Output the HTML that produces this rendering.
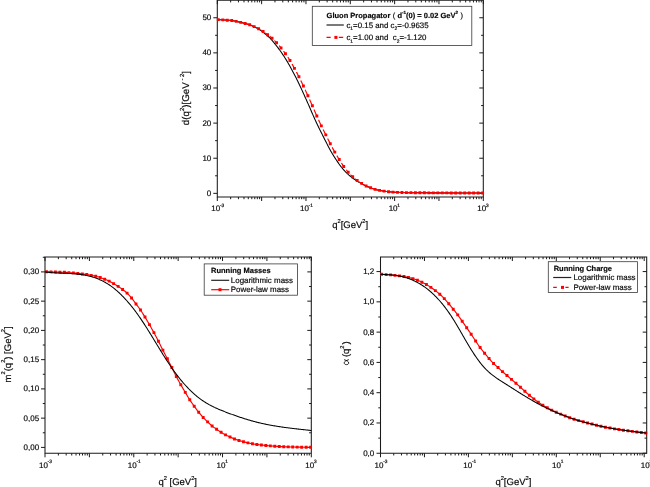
<!DOCTYPE html>
<html><head><meta charset="utf-8"><title>plots</title>
<style>html,body{margin:0;padding:0;background:#fff;}svg{display:block;will-change:transform;}text{font-family:"Liberation Sans", sans-serif;fill:#0a0a0a;stroke:#0a0a0a;stroke-width:0.18px;text-rendering:geometricPrecision;}</style>
</head><body>
<svg width="650" height="487" viewBox="0 0 650 487">
<rect width="650" height="487" fill="#fff"/>
<path d="M217.3 0.2 V197 H483.3 V0.2 Z" fill="none" stroke="#1a1a1a" stroke-width="1.05"/>
<path d="M217.3 197v4M217.3 0.2v4M230.65 197v2.2M230.65 0.2v2.2M238.45 197v2.2M238.45 0.2v2.2M243.99 197v2.2M243.99 0.2v2.2M248.29 197v2.2M248.29 0.2v2.2M251.8 197v2.2M251.8 0.2v2.2M254.77 197v2.2M254.77 0.2v2.2M257.34 197v2.2M257.34 0.2v2.2M259.6 197v2.2M259.6 0.2v2.2M261.63 197v4M261.63 0.2v4M274.98 197v2.2M274.98 0.2v2.2M282.79 197v2.2M282.79 0.2v2.2M288.32 197v2.2M288.32 0.2v2.2M292.62 197v2.2M292.62 0.2v2.2M296.13 197v2.2M296.13 0.2v2.2M299.1 197v2.2M299.1 0.2v2.2M301.67 197v2.2M301.67 0.2v2.2M303.94 197v2.2M303.94 0.2v2.2M305.97 197v4M305.97 0.2v4M319.31 197v2.2M319.31 0.2v2.2M327.12 197v2.2M327.12 0.2v2.2M332.66 197v2.2M332.66 0.2v2.2M336.95 197v2.2M336.95 0.2v2.2M340.46 197v2.2M340.46 0.2v2.2M343.43 197v2.2M343.43 0.2v2.2M346 197v2.2M346 0.2v2.2M348.27 197v2.2M348.27 0.2v2.2M350.3 197v4M350.3 0.2v4M363.65 197v2.2M363.65 0.2v2.2M371.45 197v2.2M371.45 0.2v2.2M376.99 197v2.2M376.99 0.2v2.2M381.29 197v2.2M381.29 0.2v2.2M384.8 197v2.2M384.8 0.2v2.2M387.77 197v2.2M387.77 0.2v2.2M390.34 197v2.2M390.34 0.2v2.2M392.6 197v2.2M392.6 0.2v2.2M394.63 197v4M394.63 0.2v4M407.98 197v2.2M407.98 0.2v2.2M415.79 197v2.2M415.79 0.2v2.2M421.32 197v2.2M421.32 0.2v2.2M425.62 197v2.2M425.62 0.2v2.2M429.13 197v2.2M429.13 0.2v2.2M432.1 197v2.2M432.1 0.2v2.2M434.67 197v2.2M434.67 0.2v2.2M436.94 197v2.2M436.94 0.2v2.2M438.97 197v4M438.97 0.2v4M452.31 197v2.2M452.31 0.2v2.2M460.12 197v2.2M460.12 0.2v2.2M465.66 197v2.2M465.66 0.2v2.2M469.95 197v2.2M469.95 0.2v2.2M473.46 197v2.2M473.46 0.2v2.2M476.43 197v2.2M476.43 0.2v2.2M479 197v2.2M479 0.2v2.2M481.27 197v2.2M481.27 0.2v2.2M483.3 197v4M483.3 0.2v4M217.3 193.35h-4M483.3 193.35h-4M217.3 158.23h-4M483.3 158.23h-4M217.3 123.11h-4M483.3 123.11h-4M217.3 87.99h-4M483.3 87.99h-4M217.3 52.87h-4M483.3 52.87h-4M217.3 17.75h-4M483.3 17.75h-4M217.3 175.79h-2.2M483.3 175.79h-2.2M217.3 140.67h-2.2M483.3 140.67h-2.2M217.3 105.55h-2.2M483.3 105.55h-2.2M217.3 70.43h-2.2M483.3 70.43h-2.2M217.3 35.31h-2.2M483.3 35.31h-2.2" fill="none" stroke="#1a1a1a" stroke-width="1"/>
<text x="211.3" y="195.8" font-size="8" text-anchor="end">0</text>
<text x="211.3" y="160.68" font-size="8" text-anchor="end">10</text>
<text x="211.3" y="125.56" font-size="8" text-anchor="end">20</text>
<text x="211.3" y="90.44" font-size="8" text-anchor="end">30</text>
<text x="211.3" y="55.32" font-size="8" text-anchor="end">40</text>
<text x="211.3" y="20.2" font-size="8" text-anchor="end">50</text>
<text x="211.3" y="211.3" font-size="8" text-anchor="start" font-weight="normal" ><tspan>10</tspan><tspan font-size="4.8" dy="-4.56" dx="-0.3">-3</tspan><tspan dy="4.56" font-size="1">&#8203;</tspan></text>
<text x="299.97" y="211.3" font-size="8" text-anchor="start" font-weight="normal" ><tspan>10</tspan><tspan font-size="4.8" dy="-4.56" dx="-0.3">-1</tspan><tspan dy="4.56" font-size="1">&#8203;</tspan></text>
<text x="388.63" y="211.3" font-size="8" text-anchor="start" font-weight="normal" ><tspan>10</tspan><tspan font-size="4.8" dy="-4.56" dx="-0.3">1</tspan><tspan dy="4.56" font-size="1">&#8203;</tspan></text>
<text x="477.3" y="211.3" font-size="8" text-anchor="start" font-weight="normal" ><tspan>10</tspan><tspan font-size="4.8" dy="-4.56" dx="-0.3">3</tspan><tspan dy="4.56" font-size="1">&#8203;</tspan></text>
<path d="M217.3 19.6 L217.83 19.6 L218.37 19.61 L218.9 19.64 L219.43 19.68 L219.97 19.71 L220.5 19.75 L221.03 19.78 L221.56 19.81 L222.1 19.85 L222.63 19.88 L223.16 19.92 L223.7 19.95 L224.23 19.98 L224.76 20.02 L225.3 20.05 L225.83 20.08 L226.36 20.12 L226.9 20.16 L227.43 20.19 L227.96 20.23 L228.49 20.27 L229.03 20.32 L229.56 20.36 L230.09 20.4 L230.63 20.45 L231.16 20.51 L231.69 20.56 L232.23 20.63 L232.76 20.7 L233.29 20.79 L233.83 20.88 L234.36 20.99 L234.89 21.09 L235.42 21.2 L235.96 21.31 L236.49 21.42 L237.02 21.53 L237.56 21.64 L238.09 21.76 L238.62 21.87 L239.16 21.99 L239.69 22.12 L240.22 22.24 L240.75 22.37 L241.29 22.49 L241.82 22.62 L242.35 22.75 L242.89 22.88 L243.42 23.01 L243.95 23.15 L244.49 23.29 L245.02 23.43 L245.55 23.57 L246.09 23.71 L246.62 23.85 L247.15 24 L247.68 24.14 L248.22 24.3 L248.75 24.46 L249.28 24.63 L249.82 24.81 L250.35 25.01 L250.88 25.23 L251.42 25.46 L251.95 25.71 L252.48 25.96 L253.02 26.22 L253.55 26.48 L254.08 26.73 L254.61 26.98 L255.15 27.23 L255.68 27.47 L256.21 27.73 L256.75 27.99 L257.28 28.26 L257.81 28.54 L258.35 28.84 L258.88 29.16 L259.41 29.5 L259.95 29.86 L260.48 30.23 L261.01 30.62 L261.54 31.01 L262.08 31.41 L262.61 31.81 L263.14 32.23 L263.68 32.66 L264.21 33.1 L264.74 33.55 L265.28 34 L265.81 34.46 L266.34 34.92 L266.88 35.37 L267.41 35.82 L267.94 36.27 L268.47 36.73 L269.01 37.19 L269.54 37.68 L270.07 38.19 L270.61 38.73 L271.14 39.3 L271.67 39.91 L272.21 40.54 L272.74 41.18 L273.27 41.84 L273.81 42.5 L274.34 43.15 L274.87 43.81 L275.4 44.47 L275.94 45.14 L276.47 45.81 L277 46.49 L277.54 47.19 L278.07 47.89 L278.6 48.6 L279.14 49.32 L279.67 50.05 L280.2 50.78 L280.73 51.53 L281.27 52.29 L281.8 53.06 L282.33 53.84 L282.87 54.63 L283.4 55.43 L283.93 56.24 L284.47 57.07 L285 57.91 L285.53 58.76 L286.07 59.62 L286.6 60.49 L287.13 61.38 L287.66 62.28 L288.2 63.2 L288.73 64.14 L289.26 65.09 L289.8 66.05 L290.33 67.03 L290.86 68 L291.4 68.98 L291.93 69.95 L292.46 70.94 L293 71.93 L293.53 72.93 L294.06 73.94 L294.59 74.95 L295.13 75.98 L295.66 77.03 L296.19 78.08 L296.73 79.15 L297.26 80.24 L297.79 81.33 L298.33 82.44 L298.86 83.56 L299.39 84.68 L299.93 85.81 L300.46 86.94 L300.99 88.08 L301.52 89.23 L302.06 90.38 L302.59 91.55 L303.12 92.72 L303.66 93.89 L304.19 95.07 L304.72 96.25 L305.26 97.43 L305.79 98.62 L306.32 99.81 L306.86 101 L307.39 102.2 L307.92 103.41 L308.45 104.61 L308.99 105.82 L309.52 107.03 L310.05 108.25 L310.59 109.48 L311.12 110.72 L311.65 111.95 L312.19 113.18 L312.72 114.41 L313.25 115.62 L313.78 116.81 L314.32 118 L314.85 119.19 L315.38 120.36 L315.92 121.53 L316.45 122.69 L316.98 123.84 L317.52 124.97 L318.05 126.09 L318.58 127.2 L319.12 128.29 L319.65 129.36 L320.18 130.42 L320.71 131.48 L321.25 132.53 L321.78 133.58 L322.31 134.63 L322.85 135.69 L323.38 136.76 L323.91 137.82 L324.45 138.89 L324.98 139.95 L325.51 141.01 L326.05 142.06 L326.58 143.1 L327.11 144.13 L327.64 145.15 L328.18 146.17 L328.71 147.19 L329.24 148.2 L329.78 149.2 L330.31 150.18 L330.84 151.15 L331.38 152.09 L331.91 153.01 L332.44 153.9 L332.98 154.78 L333.51 155.63 L334.04 156.47 L334.57 157.3 L335.11 158.12 L335.64 158.93 L336.17 159.73 L336.71 160.53 L337.24 161.34 L337.77 162.13 L338.31 162.92 L338.84 163.69 L339.37 164.45 L339.91 165.19 L340.44 165.91 L340.97 166.6 L341.5 167.27 L342.04 167.92 L342.57 168.56 L343.1 169.19 L343.64 169.79 L344.17 170.39 L344.7 170.97 L345.24 171.53 L345.77 172.08 L346.3 172.61 L346.84 173.13 L347.37 173.64 L347.9 174.14 L348.43 174.63 L348.97 175.1 L349.5 175.56 L350.03 176.02 L350.57 176.46 L351.1 176.89 L351.63 177.31 L352.17 177.72 L352.7 178.13 L353.23 178.52 L353.76 178.91 L354.3 179.29 L354.83 179.66 L355.36 180.02 L355.9 180.37 L356.43 180.71 L356.96 181.05 L357.5 181.37 L358.03 181.68 L358.56 181.99 L359.1 182.29 L359.63 182.59 L360.16 182.88 L360.69 183.18 L361.23 183.47 L361.76 183.76 L362.29 184.06 L362.83 184.36 L363.36 184.65 L363.89 184.94 L364.43 185.22 L364.96 185.49 L365.49 185.75 L366.03 186 L366.56 186.23 L367.09 186.45 L367.62 186.66 L368.16 186.86 L368.69 187.06 L369.22 187.26 L369.76 187.45 L370.29 187.65 L370.82 187.85 L371.36 188.05 L371.89 188.26 L372.42 188.47 L372.96 188.68 L373.49 188.88 L374.02 189.07 L374.55 189.24 L375.09 189.4 L375.62 189.54 L376.15 189.67 L376.69 189.8 L377.22 189.92 L377.75 190.04 L378.29 190.15 L378.82 190.25 L379.35 190.35 L379.89 190.45 L380.42 190.55 L380.95 190.64 L381.48 190.72 L382.02 190.81 L382.55 190.89 L383.08 190.97 L383.62 191.04 L384.15 191.12 L384.68 191.2 L385.22 191.28 L385.75 191.35 L386.28 191.43 L386.82 191.5 L387.35 191.57 L387.88 191.63 L388.41 191.69 L388.95 191.75 L389.48 191.8 L390.01 191.85 L390.55 191.9 L391.08 191.95 L391.61 192 L392.15 192.04 L392.68 192.08 L393.21 192.11 L393.74 192.15 L394.28 192.18 L394.81 192.21 L395.34 192.24 L395.88 192.27 L396.41 192.3 L396.94 192.32 L397.48 192.34 L398.01 192.36 L398.54 192.38 L399.08 192.4 L399.61 192.41 L400.14 192.43 L400.67 192.45 L401.21 192.46 L401.74 192.48 L402.27 192.49 L402.81 192.51 L403.34 192.52 L403.87 192.53 L404.41 192.55 L404.94 192.56 L405.47 192.57 L406.01 192.58 L406.54 192.59 L407.07 192.6 L407.6 192.61 L408.14 192.62 L408.67 192.63 L409.2 192.64 L409.74 192.65 L410.27 192.65 L410.8 192.66 L411.34 192.67 L411.87 192.68 L412.4 192.68 L412.94 192.69 L413.47 192.7 L414 192.71 L414.53 192.71 L415.07 192.72 L415.6 192.73 L416.13 192.73 L416.67 192.74 L417.2 192.74 L417.73 192.75 L418.27 192.76 L418.8 192.76 L419.33 192.77 L419.87 192.77 L420.4 192.78 L420.93 192.78 L421.46 192.79 L422 192.79 L422.53 192.8 L423.06 192.8 L423.6 192.81 L424.13 192.81 L424.66 192.82 L425.2 192.82 L425.73 192.82 L426.26 192.83 L426.79 192.83 L427.33 192.83 L427.86 192.84 L428.39 192.84 L428.93 192.84 L429.46 192.85 L429.99 192.85 L430.53 192.85 L431.06 192.86 L431.59 192.86 L432.13 192.86 L432.66 192.86 L433.19 192.87 L433.72 192.87 L434.26 192.87 L434.79 192.87 L435.32 192.87 L435.86 192.88 L436.39 192.88 L436.92 192.88 L437.46 192.88 L437.99 192.89 L438.52 192.89 L439.06 192.89 L439.59 192.89 L440.12 192.89 L440.65 192.9 L441.19 192.9 L441.72 192.9 L442.25 192.9 L442.79 192.9 L443.32 192.9 L443.85 192.91 L444.39 192.91 L444.92 192.91 L445.45 192.91 L445.99 192.91 L446.52 192.91 L447.05 192.92 L447.58 192.92 L448.12 192.92 L448.65 192.92 L449.18 192.92 L449.72 192.92 L450.25 192.92 L450.78 192.93 L451.32 192.93 L451.85 192.93 L452.38 192.93 L452.92 192.93 L453.45 192.93 L453.98 192.93 L454.51 192.94 L455.05 192.94 L455.58 192.94 L456.11 192.94 L456.65 192.94 L457.18 192.94 L457.71 192.94 L458.25 192.95 L458.78 192.95 L459.31 192.95 L459.85 192.95 L460.38 192.95 L460.91 192.95 L461.44 192.95 L461.98 192.96 L462.51 192.96 L463.04 192.96 L463.58 192.96 L464.11 192.96 L464.64 192.96 L465.18 192.96 L465.71 192.96 L466.24 192.97 L466.77 192.97 L467.31 192.97 L467.84 192.97 L468.37 192.97 L468.91 192.97 L469.44 192.97 L469.97 192.97 L470.51 192.98 L471.04 192.98 L471.57 192.98 L472.11 192.98 L472.64 192.98 L473.17 192.98 L473.7 192.98 L474.24 192.98 L474.77 192.98 L475.3 192.99 L475.84 192.99 L476.37 192.99 L476.9 192.99 L477.44 192.99 L477.97 192.99 L478.5 192.99 L479.04 192.99 L479.57 192.99 L480.1 192.99 L480.63 193 L481.17 193 L481.7 193 L482.23 193 L482.77 193 L483.3 193" fill="none" stroke="#000" stroke-width="1.05" stroke-linejoin="round"/>
<path d="M218.3 19.61 L218.71 19.63 L219.11 19.66 L219.52 19.68 L219.93 19.71 L220.34 19.74 L220.74 19.76 L221.15 19.79 L221.56 19.81 L221.97 19.84 L222.37 19.87 L222.78 19.89M222.78 19.89 L223.19 19.92 L223.59 19.94 L224 19.97 L224.41 19.99 L224.82 20.02 L225.22 20.05 L225.63 20.07 L226.04 20.1 L226.44 20.12 L226.85 20.15 L227.26 20.18M227.26 20.18 L227.67 20.21 L228.07 20.24 L228.48 20.27 L228.89 20.31 L229.3 20.34 L229.7 20.37 L230.11 20.41 L230.52 20.44 L230.92 20.48 L231.33 20.52 L231.74 20.57M231.74 20.57 L232.15 20.62 L232.55 20.67 L232.96 20.74 L233.37 20.8 L233.78 20.88 L234.18 20.95 L234.59 21.03 L235 21.11 L235.4 21.2 L235.81 21.28 L236.22 21.36M236.22 21.36 L236.63 21.45 L237.03 21.53 L237.44 21.62 L237.85 21.7 L238.25 21.79 L238.66 21.88 L239.07 21.97 L239.48 22.07 L239.88 22.16 L240.29 22.26 L240.7 22.35M242.17 22.7 L242.33 22.74 L242.73 22.84 L243.14 22.94 L243.55 23.04 L243.96 23.15 L244.36 23.25 L244.77 23.36 L245.18 23.47M246.69 23.87 L246.81 23.9 L247.21 24.01 L247.62 24.13 L248.03 24.24 L248.44 24.36 L248.84 24.49 L249.25 24.62 L249.66 24.75M251.32 25.4 L251.69 25.56 L252.1 25.74 L252.51 25.93 L252.92 26.12 L253.32 26.3 L253.73 26.49 L254.14 26.67M255.82 27.4 L256.17 27.56 L256.58 27.74 L256.99 27.92 L257.4 28.11 L257.8 28.3 L258.21 28.5 L258.62 28.7M260.52 29.79 L260.65 29.87 L261.06 30.12 L261.47 30.38 L261.87 30.65 L262.28 30.92 L262.69 31.19 L263.1 31.46M265.13 32.89 L265.13 32.89 L265.54 33.2 L265.95 33.5 L266.35 33.81 L266.76 34.11 L267.17 34.42 L267.58 34.73M269.67 36.29 L270.02 36.56 L270.43 36.87 L270.83 37.19 L271.24 37.51 L271.65 37.85 L272.06 38.2M274.49 40.58 L274.5 40.58 L274.91 41.02 L275.31 41.46 L275.72 41.91 L276.13 42.36 L276.54 42.81M279.07 45.64 L279.39 46 L279.79 46.48 L280.2 46.96 L280.61 47.44 L281.02 47.93M283.57 51.14 L283.87 51.53 L284.27 52.07 L284.68 52.62 L285.09 53.17 L285.49 53.73M287.82 57.11 L287.94 57.28 L288.35 57.9 L288.75 58.53 L289.16 59.17 L289.57 59.81 L289.97 60.47M292.05 64 L292.42 64.65 L292.83 65.38 L293.23 66.12 L293.64 66.86 L294.05 67.6 L294.45 68.35M296.41 71.95 L296.49 72.11 L296.9 72.87 L297.3 73.64 L297.71 74.41 L298.12 75.19 L298.53 75.98 L298.93 76.78M300.76 80.45 L300.97 80.87 L301.38 81.72 L301.78 82.56 L302.19 83.41 L302.6 84.27 L303.01 85.13 L303.41 85.99M305.15 89.71 L305.45 90.37 L305.86 91.26 L306.26 92.15 L306.67 93.04 L307.08 93.94 L307.49 94.84 L307.89 95.74M309.58 99.48 L309.93 100.27 L310.34 101.19 L310.74 102.1 L311.15 103.02 L311.56 103.94 L311.97 104.86 L312.37 105.78M314.01 109.54 L314.41 110.46 L314.82 111.41 L315.22 112.35 L315.63 113.29 L316.04 114.22 L316.45 115.15 L316.85 116.07M318.53 119.81 L318.89 120.59 L319.3 121.48 L319.7 122.37 L320.11 123.25 L320.52 124.13 L320.92 124.99 L321.33 125.85M323.14 129.53 L323.37 130 L323.78 130.81 L324.18 131.61 L324.59 132.42 L325 133.22 L325.4 134.02 L325.81 134.83M327.65 138.49 L327.85 138.89 L328.26 139.7 L328.66 140.51 L329.07 141.32 L329.48 142.12 L329.88 142.92 L330.29 143.71M332.19 147.34 L332.33 147.6 L332.73 148.37 L333.14 149.13 L333.55 149.89 L333.96 150.64 L334.36 151.37 L334.77 152.1M336.85 155.63 L337.21 156.23 L337.62 156.89 L338.03 157.55 L338.44 158.2 L338.84 158.85 L339.25 159.5M341.43 162.98 L341.69 163.4 L342.1 164.04 L342.51 164.66 L342.92 165.28 L343.32 165.88 L343.73 166.46M346.19 169.74 L346.58 170.24 L346.99 170.74 L347.4 171.23 L347.8 171.71 L348.21 172.18M350.52 174.69 L350.65 174.83 L351.06 175.24 L351.47 175.64 L351.88 176.03 L352.28 176.42 L352.69 176.8M354.77 178.62 L355.13 178.93 L355.54 179.26 L355.95 179.58 L356.36 179.9 L356.76 180.2 L357.17 180.51M359.04 181.79 L359.21 181.9 L359.61 182.16 L360.02 182.41 L360.43 182.67 L360.83 182.91 L361.24 183.16 L361.65 183.41M363.43 184.49 L363.69 184.64 L364.09 184.88 L364.5 185.11 L364.91 185.34 L365.31 185.56 L365.72 185.77 L366.13 185.97M367.72 186.66 L367.76 186.68 L368.17 186.84 L368.57 187 L368.98 187.15 L369.39 187.31 L369.79 187.46 L370.2 187.61 L370.61 187.77M372.17 188.37 L372.24 188.4 L372.64 188.56 L373.05 188.72 L373.46 188.87 L373.87 189.01 L374.27 189.15 L374.68 189.28 L375.09 189.4M375.09 189.4 L375.5 189.51 L375.9 189.61 L376.31 189.71 L376.72 189.81 L377.12 189.9 L377.53 189.99 L377.94 190.08 L378.35 190.16 L378.75 190.24 L379.16 190.32 L379.57 190.39M379.57 190.39 L379.98 190.47 L380.38 190.54 L380.79 190.61 L381.2 190.68 L381.6 190.74 L382.01 190.8 L382.42 190.87 L382.83 190.93 L383.23 190.99 L383.64 191.05 L384.05 191.11M384.05 191.11 L384.45 191.17 L384.86 191.23 L385.27 191.28 L385.68 191.34 L386.08 191.4 L386.49 191.45 L386.9 191.51 L387.31 191.56 L387.71 191.61 L388.12 191.66 L388.53 191.7M388.53 191.7 L388.93 191.75 L389.34 191.79 L389.75 191.83 L390.16 191.87 L390.56 191.91 L390.97 191.94 L391.38 191.98 L391.79 192.01 L392.19 192.04 L392.6 192.07 L393.01 192.1M393.01 192.1 L393.41 192.13 L393.82 192.15 L394.23 192.18 L394.64 192.2 L395.04 192.23 L395.45 192.25 L395.86 192.27 L396.26 192.29 L396.67 192.31 L397.08 192.33 L397.49 192.34M397.49 192.34 L397.89 192.36 L398.3 192.37 L398.71 192.38 L399.12 192.4 L399.52 192.41 L399.93 192.42 L400.34 192.44 L400.74 192.45 L401.15 192.46 L401.56 192.47 L401.97 192.48M401.97 192.48 L402.37 192.49 L402.78 192.51 L403.19 192.52 L403.6 192.53 L404 192.54 L404.41 192.55 L404.82 192.55 L405.22 192.56 L405.63 192.57 L406.04 192.58 L406.45 192.59M406.45 192.59 L406.85 192.6 L407.26 192.6 L407.67 192.61 L408.07 192.62 L408.48 192.63 L408.89 192.63 L409.3 192.64 L409.7 192.65 L410.11 192.65 L410.52 192.66 L410.93 192.66M410.93 192.66 L411.33 192.67 L411.74 192.67 L412.15 192.68 L412.55 192.69 L412.96 192.69 L413.37 192.7 L413.78 192.7 L414.18 192.71 L414.59 192.71 L415 192.72 L415.41 192.72M415.41 192.72 L415.81 192.73 L416.22 192.73 L416.63 192.74 L417.03 192.74 L417.44 192.75 L417.85 192.75 L418.26 192.76 L418.66 192.76 L419.07 192.76 L419.48 192.77 L419.88 192.77M419.88 192.77 L420.29 192.78 L420.7 192.78 L421.11 192.78 L421.51 192.79 L421.92 192.79 L422.33 192.8 L422.74 192.8 L423.14 192.8 L423.55 192.81 L423.96 192.81 L424.36 192.81M424.36 192.81 L424.77 192.82 L425.18 192.82 L425.59 192.82 L425.99 192.83 L426.4 192.83 L426.81 192.83 L427.22 192.83 L427.62 192.84 L428.03 192.84 L428.44 192.84 L428.84 192.84M428.84 192.84 L429.25 192.85 L429.66 192.85 L430.07 192.85 L430.47 192.85 L430.88 192.85 L431.29 192.86 L431.69 192.86 L432.1 192.86 L432.51 192.86 L432.92 192.86 L433.32 192.87M433.32 192.87 L433.73 192.87 L434.14 192.87 L434.55 192.87 L434.95 192.87 L435.36 192.88 L435.77 192.88 L436.17 192.88 L436.58 192.88 L436.99 192.88 L437.4 192.88 L437.8 192.88M437.8 192.88 L438.21 192.89 L438.62 192.89 L439.03 192.89 L439.43 192.89 L439.84 192.89 L440.25 192.89 L440.65 192.9 L441.06 192.9 L441.47 192.9 L441.88 192.9 L442.28 192.9M442.28 192.9 L442.69 192.9 L443.1 192.9 L443.5 192.9 L443.91 192.91 L444.32 192.91 L444.73 192.91 L445.13 192.91 L445.54 192.91 L445.95 192.91 L446.36 192.91 L446.76 192.91M446.76 192.91 L447.17 192.92 L447.58 192.92 L447.98 192.92 L448.39 192.92 L448.8 192.92 L449.21 192.92 L449.61 192.92 L450.02 192.92 L450.43 192.93 L450.84 192.93 L451.24 192.93M451.24 192.93 L451.65 192.93 L452.06 192.93 L452.46 192.93 L452.87 192.93 L453.28 192.93 L453.69 192.93 L454.09 192.93 L454.5 192.94 L454.91 192.94 L455.31 192.94 L455.72 192.94M455.72 192.94 L456.13 192.94 L456.54 192.94 L456.94 192.94 L457.35 192.94 L457.76 192.94 L458.17 192.95 L458.57 192.95 L458.98 192.95 L459.39 192.95 L459.79 192.95 L460.2 192.95M460.2 192.95 L460.61 192.95 L461.02 192.95 L461.42 192.95 L461.83 192.95 L462.24 192.96 L462.65 192.96 L463.05 192.96 L463.46 192.96 L463.87 192.96 L464.27 192.96 L464.68 192.96M464.68 192.96 L465.09 192.96 L465.5 192.96 L465.9 192.96 L466.31 192.97 L466.72 192.97 L467.12 192.97 L467.53 192.97 L467.94 192.97 L468.35 192.97 L468.75 192.97 L469.16 192.97M469.16 192.97 L469.57 192.97 L469.98 192.97 L470.38 192.98 L470.79 192.98 L471.2 192.98 L471.6 192.98 L472.01 192.98 L472.42 192.98 L472.83 192.98 L473.23 192.98 L473.64 192.98M473.64 192.98 L474.05 192.98 L474.46 192.98 L474.86 192.98 L475.27 192.99 L475.68 192.99 L476.08 192.99 L476.49 192.99 L476.9 192.99 L477.31 192.99 L477.71 192.99 L478.12 192.99M478.12 192.99 L478.53 192.99 L478.93 192.99 L479.34 192.99 L479.75 192.99 L480.16 193 L480.56 193 L480.97 193 L481.38 193 L481.79 193 L482.19 193 L482.6 193" fill="none" stroke="#ff0000" stroke-width="1.15"/>
<path d="M216.85 18.16h2.9v2.9h-2.9zM221.33 18.44h2.9v2.9h-2.9zM225.81 18.73h2.9v2.9h-2.9zM230.29 19.12h2.9v2.9h-2.9zM234.77 19.91h2.9v2.9h-2.9zM239.25 20.9h2.9v2.9h-2.9zM243.73 22.02h2.9v2.9h-2.9zM248.21 23.3h2.9v2.9h-2.9zM252.69 25.22h2.9v2.9h-2.9zM257.17 27.25h2.9v2.9h-2.9zM261.65 30.01h2.9v2.9h-2.9zM266.13 33.28h2.9v2.9h-2.9zM270.61 36.75h2.9v2.9h-2.9zM275.09 41.36h2.9v2.9h-2.9zM279.57 46.48h2.9v2.9h-2.9zM284.04 52.28h2.9v2.9h-2.9zM288.52 59.02h2.9v2.9h-2.9zM293 66.9h2.9v2.9h-2.9zM297.48 75.33h2.9v2.9h-2.9zM301.96 84.54h2.9v2.9h-2.9zM306.44 94.29h2.9v2.9h-2.9zM310.92 104.33h2.9v2.9h-2.9zM315.4 114.62h2.9v2.9h-2.9zM319.88 124.4h2.9v2.9h-2.9zM324.36 133.38h2.9v2.9h-2.9zM328.84 142.26h2.9v2.9h-2.9zM333.32 150.65h2.9v2.9h-2.9zM337.8 158.05h2.9v2.9h-2.9zM342.28 165.01h2.9v2.9h-2.9zM346.76 170.73h2.9v2.9h-2.9zM351.24 175.35h2.9v2.9h-2.9zM355.72 179.06h2.9v2.9h-2.9zM360.2 181.96h2.9v2.9h-2.9zM364.68 184.52h2.9v2.9h-2.9zM369.16 186.32h2.9v2.9h-2.9zM373.64 187.95h2.9v2.9h-2.9zM378.12 188.94h2.9v2.9h-2.9zM382.6 189.66h2.9v2.9h-2.9zM387.08 190.25h2.9v2.9h-2.9zM391.56 190.65h2.9v2.9h-2.9zM396.04 190.89h2.9v2.9h-2.9zM400.52 191.03h2.9v2.9h-2.9zM405 191.14h2.9v2.9h-2.9zM409.48 191.21h2.9v2.9h-2.9zM413.96 191.27h2.9v2.9h-2.9zM418.43 191.32h2.9v2.9h-2.9zM422.91 191.36h2.9v2.9h-2.9zM427.39 191.39h2.9v2.9h-2.9zM431.87 191.42h2.9v2.9h-2.9zM436.35 191.43h2.9v2.9h-2.9zM440.83 191.45h2.9v2.9h-2.9zM445.31 191.46h2.9v2.9h-2.9zM449.79 191.48h2.9v2.9h-2.9zM454.27 191.49h2.9v2.9h-2.9zM458.75 191.5h2.9v2.9h-2.9zM463.23 191.51h2.9v2.9h-2.9zM467.71 191.52h2.9v2.9h-2.9zM472.19 191.53h2.9v2.9h-2.9zM476.67 191.54h2.9v2.9h-2.9zM481.15 191.55h2.9v2.9h-2.9z" fill="#ff0000" stroke="none"/>
<text x="332.2" y="228.3" font-size="9.5" text-anchor="start" font-weight="normal" ><tspan>q</tspan><tspan font-size="5.7" dy="-5.23" dx="0">2</tspan><tspan dy="5.23" font-size="1">&#8203;</tspan><tspan>[GeV</tspan><tspan font-size="5.7" dy="-5.23" dx="0">2</tspan><tspan dy="5.23" font-size="1">&#8203;</tspan><tspan>]</tspan></text>
<g transform="translate(189.4 125.2) rotate(-90)"><text x="0" y="0" font-size="9.8" text-anchor="start" font-weight="normal" xml:space="preserve"><tspan>d(q</tspan><tspan font-size="5.88" dy="-5.39" dx="0">2</tspan><tspan dy="5.39" font-size="1">&#8203;</tspan><tspan>)[GeV</tspan><tspan font-size="5.88" dy="-5.39" dx="0"> - 2</tspan><tspan dy="5.39" font-size="1">&#8203;</tspan><tspan>]</tspan></text></g>
<rect x="312.3" y="6.3" width="159.5" height="39.1" fill="#fff" stroke="#3a3a3a" stroke-width="0.8"/>
<text x="326.6" y="17.8" font-size="7.5" text-anchor="start" font-weight="bold" xml:space="preserve"><tspan>Gluon Propagator </tspan><tspan font-weight="normal" dx="0.4">( </tspan><tspan>d</tspan><tspan font-size="4.5" dy="-4.12" dx="0">-1</tspan><tspan dy="4.12" font-size="1">&#8203;</tspan><tspan>(0) = 0.02 GeV</tspan><tspan font-size="4.5" dy="-4.12" dx="0">2</tspan><tspan dy="4.12" font-size="1">&#8203;</tspan><tspan font-weight="normal" dx="0.4"> )</tspan></text>
<path d="M326.5 25h17.3" stroke="#222" stroke-width="1.2"/>
<text x="346.4" y="27.5" font-size="7.9" text-anchor="start" font-weight="normal" ><tspan>c</tspan><tspan font-size="4.9" dy="2.69">1</tspan><tspan dy="-2.69" font-size="1">&#8203;</tspan><tspan>=0.15 and c</tspan><tspan font-size="4.9" dy="2.69">2</tspan><tspan dy="-2.69" font-size="1">&#8203;</tspan><tspan>=-0.9635</tspan></text>
<path d="M326.5 37.4h4.2M338.8 37.4h4.4" stroke="#ff0000" stroke-width="1.2"/>
<rect x="334.4" y="35.9" width="3" height="3" fill="#ff0000"/>
<text x="346.4" y="39.9" font-size="7.9" text-anchor="start" font-weight="normal" xml:space="preserve"><tspan>c</tspan><tspan font-size="4.9" dy="2.69">1</tspan><tspan dy="-2.69" font-size="1">&#8203;</tspan><tspan>=1.00 and  c</tspan><tspan font-size="4.9" dy="2.69">2</tspan><tspan dy="-2.69" font-size="1">&#8203;</tspan><tspan>=-1.120</tspan></text>
<path d="M45 257 V453.3 H311.3 V257 Z" fill="none" stroke="#1a1a1a" stroke-width="1.05"/>
<path d="M45 453.3v4M45 257v4M58.36 453.3v2.2M58.36 257v2.2M66.18 453.3v2.2M66.18 257v2.2M71.72 453.3v2.2M71.72 257v2.2M76.02 453.3v2.2M76.02 257v2.2M79.54 453.3v2.2M79.54 257v2.2M82.51 453.3v2.2M82.51 257v2.2M85.08 453.3v2.2M85.08 257v2.2M87.35 453.3v2.2M87.35 257v2.2M89.38 453.3v4M89.38 257v4M102.74 453.3v2.2M102.74 257v2.2M110.56 453.3v2.2M110.56 257v2.2M116.1 453.3v2.2M116.1 257v2.2M120.41 453.3v2.2M120.41 257v2.2M123.92 453.3v2.2M123.92 257v2.2M126.89 453.3v2.2M126.89 257v2.2M129.47 453.3v2.2M129.47 257v2.2M131.74 453.3v2.2M131.74 257v2.2M133.77 453.3v4M133.77 257v4M147.13 453.3v2.2M147.13 257v2.2M154.94 453.3v2.2M154.94 257v2.2M160.49 453.3v2.2M160.49 257v2.2M164.79 453.3v2.2M164.79 257v2.2M168.3 453.3v2.2M168.3 257v2.2M171.27 453.3v2.2M171.27 257v2.2M173.85 453.3v2.2M173.85 257v2.2M176.12 453.3v2.2M176.12 257v2.2M178.15 453.3v4M178.15 257v4M191.51 453.3v2.2M191.51 257v2.2M199.33 453.3v2.2M199.33 257v2.2M204.87 453.3v2.2M204.87 257v2.2M209.17 453.3v2.2M209.17 257v2.2M212.69 453.3v2.2M212.69 257v2.2M215.66 453.3v2.2M215.66 257v2.2M218.23 453.3v2.2M218.23 257v2.2M220.5 453.3v2.2M220.5 257v2.2M222.53 453.3v4M222.53 257v4M235.89 453.3v2.2M235.89 257v2.2M243.71 453.3v2.2M243.71 257v2.2M249.25 453.3v2.2M249.25 257v2.2M253.56 453.3v2.2M253.56 257v2.2M257.07 453.3v2.2M257.07 257v2.2M260.04 453.3v2.2M260.04 257v2.2M262.62 453.3v2.2M262.62 257v2.2M264.89 453.3v2.2M264.89 257v2.2M266.92 453.3v4M266.92 257v4M280.28 453.3v2.2M280.28 257v2.2M288.09 453.3v2.2M288.09 257v2.2M293.64 453.3v2.2M293.64 257v2.2M297.94 453.3v2.2M297.94 257v2.2M301.45 453.3v2.2M301.45 257v2.2M304.42 453.3v2.2M304.42 257v2.2M307 453.3v2.2M307 257v2.2M309.27 453.3v2.2M309.27 257v2.2M311.3 453.3v4M311.3 257v4M45 447.4h-4M311.3 447.4h-4M45 418.15h-4M311.3 418.15h-4M45 388.9h-4M311.3 388.9h-4M45 359.65h-4M311.3 359.65h-4M45 330.4h-4M311.3 330.4h-4M45 301.15h-4M311.3 301.15h-4M45 271.9h-4M311.3 271.9h-4M45 432.77h-2.2M311.3 432.77h-2.2M45 403.52h-2.2M311.3 403.52h-2.2M45 374.27h-2.2M311.3 374.27h-2.2M45 345.02h-2.2M311.3 345.02h-2.2M45 315.77h-2.2M311.3 315.77h-2.2M45 286.52h-2.2M311.3 286.52h-2.2M45 257.27h-2.2M311.3 257.27h-2.2" fill="none" stroke="#1a1a1a" stroke-width="1"/>
<text x="39.2" y="449.85" font-size="8" text-anchor="end">0,00</text>
<text x="39.2" y="420.6" font-size="8" text-anchor="end">0,05</text>
<text x="39.2" y="391.35" font-size="8" text-anchor="end">0,10</text>
<text x="39.2" y="362.1" font-size="8" text-anchor="end">0,15</text>
<text x="39.2" y="332.85" font-size="8" text-anchor="end">0,20</text>
<text x="39.2" y="303.6" font-size="8" text-anchor="end">0,25</text>
<text x="39.2" y="274.35" font-size="8" text-anchor="end">0,30</text>
<text x="39" y="467.9" font-size="8" text-anchor="start" font-weight="normal" ><tspan>10</tspan><tspan font-size="4.8" dy="-4.56" dx="-0.3">-3</tspan><tspan dy="4.56" font-size="1">&#8203;</tspan></text>
<text x="127.77" y="467.9" font-size="8" text-anchor="start" font-weight="normal" ><tspan>10</tspan><tspan font-size="4.8" dy="-4.56" dx="-0.3">-1</tspan><tspan dy="4.56" font-size="1">&#8203;</tspan></text>
<text x="216.53" y="467.9" font-size="8" text-anchor="start" font-weight="normal" ><tspan>10</tspan><tspan font-size="4.8" dy="-4.56" dx="-0.3">1</tspan><tspan dy="4.56" font-size="1">&#8203;</tspan></text>
<text x="305.3" y="467.9" font-size="8" text-anchor="start" font-weight="normal" ><tspan>10</tspan><tspan font-size="4.8" dy="-4.56" dx="-0.3">3</tspan><tspan dy="4.56" font-size="1">&#8203;</tspan></text>
<path d="M46.5 271.7 L47.16 271.74 L47.82 271.77 L48.49 271.81 L49.15 271.84 L49.81 271.87 L50.47 271.89 L51.13 271.91 L51.8 271.93 L52.46 271.94 L53.12 271.95 L53.78 271.96 L54.44 271.98 L55.1 271.99 L55.77 272.02 L56.43 272.04 L57.09 272.08 L57.75 272.11 L58.41 272.15 L59.08 272.18 L59.74 272.2 L60.4 272.22 L61.06 272.23 L61.72 272.24 L62.39 272.26 L63.05 272.27 L63.71 272.29 L64.37 272.31 L65.03 272.34 L65.7 272.38 L66.36 272.42 L67.02 272.47 L67.68 272.53 L68.34 272.58 L69 272.62 L69.67 272.66 L70.33 272.7 L70.99 272.75 L71.65 272.79 L72.31 272.84 L72.98 272.89 L73.64 272.95 L74.3 273.02 L74.96 273.09 L75.62 273.17 L76.29 273.25 L76.95 273.33 L77.61 273.4 L78.27 273.47 L78.93 273.54 L79.6 273.62 L80.26 273.69 L80.92 273.76 L81.58 273.84 L82.24 273.92 L82.9 274 L83.57 274.09 L84.23 274.17 L84.89 274.26 L85.55 274.36 L86.21 274.46 L86.88 274.56 L87.54 274.67 L88.2 274.78 L88.86 274.9 L89.52 275.02 L90.19 275.15 L90.85 275.27 L91.51 275.4 L92.17 275.52 L92.83 275.65 L93.5 275.77 L94.16 275.91 L94.82 276.05 L95.48 276.2 L96.14 276.35 L96.8 276.52 L97.47 276.69 L98.13 276.87 L98.79 277.06 L99.45 277.26 L100.11 277.47 L100.78 277.69 L101.44 277.93 L102.1 278.18 L102.76 278.44 L103.42 278.71 L104.09 278.97 L104.75 279.24 L105.41 279.5 L106.07 279.77 L106.73 280.04 L107.4 280.32 L108.06 280.61 L108.72 280.91 L109.38 281.23 L110.04 281.57 L110.7 281.93 L111.37 282.29 L112.03 282.67 L112.69 283.05 L113.35 283.43 L114.01 283.82 L114.68 284.22 L115.34 284.63 L116 285.05 L116.66 285.47 L117.32 285.89 L117.99 286.32 L118.65 286.75 L119.31 287.18 L119.97 287.61 L120.63 288.05 L121.3 288.51 L121.96 288.98 L122.62 289.46 L123.28 289.97 L123.94 290.48 L124.6 291.01 L125.27 291.56 L125.93 292.13 L126.59 292.72 L127.25 293.34 L127.91 293.98 L128.58 294.65 L129.24 295.34 L129.9 296.06 L130.56 296.81 L131.22 297.57 L131.89 298.37 L132.55 299.21 L133.21 300.09 L133.87 301 L134.53 301.92 L135.2 302.84 L135.86 303.74 L136.52 304.63 L137.18 305.51 L137.84 306.38 L138.5 307.27 L139.17 308.17 L139.83 309.08 L140.49 310.03 L141.15 311.01 L141.81 312.01 L142.48 313.03 L143.14 314.07 L143.8 315.12 L144.46 316.19 L145.12 317.27 L145.79 318.36 L146.45 319.47 L147.11 320.6 L147.77 321.74 L148.43 322.89 L149.1 324.04 L149.76 325.2 L150.42 326.35 L151.08 327.51 L151.74 328.68 L152.4 329.87 L153.07 331.06 L153.73 332.27 L154.39 333.5 L155.05 334.74 L155.71 336 L156.38 337.27 L157.04 338.55 L157.7 339.83 L158.36 341.13 L159.02 342.43 L159.69 343.75 L160.35 345.08 L161.01 346.42 L161.67 347.75 L162.33 349.08 L163 350.39 L163.66 351.68 L164.32 352.96 L164.98 354.24 L165.64 355.52 L166.3 356.79 L166.97 358.06 L167.63 359.35 L168.29 360.63 L168.95 361.9 L169.61 363.18 L170.28 364.46 L170.94 365.75 L171.6 367.06 L172.26 368.37 L172.92 369.73 L173.59 371.1 L174.25 372.47 L174.91 373.84 L175.57 375.18 L176.23 376.47 L176.9 377.72 L177.56 378.95 L178.22 380.15 L178.88 381.33 L179.54 382.49 L180.2 383.66 L180.87 384.82 L181.53 385.97 L182.19 387.12 L182.85 388.25 L183.51 389.38 L184.18 390.5 L184.84 391.62 L185.5 392.74 L186.16 393.86 L186.82 394.98 L187.49 396.1 L188.15 397.21 L188.81 398.29 L189.47 399.34 L190.13 400.36 L190.8 401.36 L191.46 402.33 L192.12 403.28 L192.78 404.22 L193.44 405.15 L194.1 406.07 L194.77 406.98 L195.43 407.89 L196.09 408.79 L196.75 409.68 L197.41 410.56 L198.08 411.41 L198.74 412.25 L199.4 413.07 L200.06 413.88 L200.72 414.68 L201.39 415.46 L202.05 416.22 L202.71 416.96 L203.37 417.68 L204.03 418.37 L204.7 419.03 L205.36 419.68 L206.02 420.32 L206.68 420.94 L207.34 421.57 L208 422.19 L208.67 422.83 L209.33 423.46 L209.99 424.09 L210.65 424.71 L211.31 425.31 L211.98 425.88 L212.64 426.41 L213.3 426.92 L213.96 427.4 L214.62 427.87 L215.29 428.33 L215.95 428.79 L216.61 429.25 L217.27 429.72 L217.93 430.19 L218.6 430.65 L219.26 431.11 L219.92 431.56 L220.58 432 L221.24 432.43 L221.9 432.84 L222.57 433.24 L223.23 433.63 L223.89 434.02 L224.55 434.39 L225.21 434.75 L225.88 435.09 L226.54 435.42 L227.2 435.74 L227.86 436.05 L228.52 436.35 L229.19 436.65 L229.85 436.94 L230.51 437.24 L231.17 437.53 L231.83 437.82 L232.5 438.11 L233.16 438.39 L233.82 438.66 L234.48 438.92 L235.14 439.17 L235.8 439.4 L236.47 439.64 L237.13 439.86 L237.79 440.08 L238.45 440.3 L239.11 440.5 L239.78 440.71 L240.44 440.91 L241.1 441.1 L241.76 441.3 L242.42 441.48 L243.09 441.66 L243.75 441.84 L244.41 442.01 L245.07 442.18 L245.73 442.35 L246.4 442.51 L247.06 442.66 L247.72 442.81 L248.38 442.96 L249.04 443.11 L249.7 443.25 L250.37 443.39 L251.03 443.52 L251.69 443.65 L252.35 443.77 L253.01 443.89 L253.68 444 L254.34 444.11 L255 444.22 L255.66 444.31 L256.32 444.41 L256.99 444.5 L257.65 444.58 L258.31 444.66 L258.97 444.73 L259.63 444.8 L260.3 444.87 L260.96 444.94 L261.62 445.01 L262.28 445.09 L262.94 445.17 L263.6 445.25 L264.27 445.32 L264.93 445.4 L265.59 445.47 L266.25 445.53 L266.91 445.6 L267.58 445.66 L268.24 445.72 L268.9 445.78 L269.56 445.83 L270.22 445.89 L270.89 445.94 L271.55 445.98 L272.21 446.03 L272.87 446.07 L273.53 446.11 L274.2 446.15 L274.86 446.2 L275.52 446.24 L276.18 446.29 L276.84 446.34 L277.5 446.39 L278.17 446.43 L278.83 446.47 L279.49 446.51 L280.15 446.54 L280.81 446.57 L281.48 446.6 L282.14 446.63 L282.8 446.66 L283.46 446.69 L284.12 446.71 L284.79 446.75 L285.45 446.78 L286.11 446.81 L286.77 446.84 L287.43 446.87 L288.1 446.89 L288.76 446.91 L289.42 446.93 L290.08 446.95 L290.74 446.96 L291.4 446.97 L292.07 446.99 L292.73 447 L293.39 447.02 L294.05 447.03 L294.71 447.04 L295.38 447.06 L296.04 447.07 L296.7 447.09 L297.36 447.1 L298.02 447.12 L298.69 447.14 L299.35 447.16 L300.01 447.18 L300.67 447.19 L301.33 447.2 L302 447.2 L302.66 447.2 L303.32 447.2 L303.98 447.2 L304.64 447.2 L305.3 447.2 L305.97 447.2 L306.63 447.2 L307.29 447.21 L307.95 447.22 L308.61 447.24 L309.28 447.26 L309.94 447.28 L310.6 447.3" fill="none" stroke="#ff0000" stroke-width="1.15" stroke-linejoin="round"/>
<path d="M45.05 270.25h2.9v2.9h-2.9zM49.53 270.46h2.9v2.9h-2.9zM54 270.55h2.9v2.9h-2.9zM58.48 270.76h2.9v2.9h-2.9zM62.96 270.86h2.9v2.9h-2.9zM67.43 271.16h2.9v2.9h-2.9zM71.91 271.47h2.9v2.9h-2.9zM76.38 271.98h2.9v2.9h-2.9zM80.86 272.48h2.9v2.9h-2.9zM85.34 273.09h2.9v2.9h-2.9zM89.81 273.9h2.9v2.9h-2.9zM94.29 274.81h2.9v2.9h-2.9zM98.77 276.05h2.9v2.9h-2.9zM103.24 277.77h2.9v2.9h-2.9zM107.72 279.68h2.9v2.9h-2.9zM112.19 282.15h2.9v2.9h-2.9zM116.67 284.96h2.9v2.9h-2.9zM121.15 288h2.9v2.9h-2.9zM125.62 291.72h2.9v2.9h-2.9zM130.1 296.51h2.9v2.9h-2.9zM134.58 302.52h2.9v2.9h-2.9zM139.05 308.6h2.9v2.9h-2.9zM143.53 315.58h2.9v2.9h-2.9zM148 323.22h2.9v2.9h-2.9zM152.48 331.19h2.9v2.9h-2.9zM156.96 339.76h2.9v2.9h-2.9zM161.43 348.72h2.9v2.9h-2.9zM165.91 357.37h2.9v2.9h-2.9zM170.39 366.07h2.9v2.9h-2.9zM174.86 375.17h2.9v2.9h-2.9zM179.34 383.23h2.9v2.9h-2.9zM183.81 390.89h2.9v2.9h-2.9zM188.29 398.31h2.9v2.9h-2.9zM192.77 404.77h2.9v2.9h-2.9zM197.24 410.74h2.9v2.9h-2.9zM201.72 416.01h2.9v2.9h-2.9zM206.2 420.4h2.9v2.9h-2.9zM210.67 424.55h2.9v2.9h-2.9zM215.15 427.79h2.9v2.9h-2.9zM219.62 430.87h2.9v2.9h-2.9zM224.1 433.47h2.9v2.9h-2.9zM228.58 435.57h2.9v2.9h-2.9zM233.05 437.48h2.9v2.9h-2.9zM237.53 439.01h2.9v2.9h-2.9zM242.01 440.31h2.9v2.9h-2.9zM246.48 441.41h2.9v2.9h-2.9zM250.96 442.33h2.9v2.9h-2.9zM255.43 443.03h2.9v2.9h-2.9zM259.91 443.53h2.9v2.9h-2.9zM264.39 444.04h2.9v2.9h-2.9zM268.86 444.44h2.9v2.9h-2.9zM273.34 444.74h2.9v2.9h-2.9zM277.82 445.05h2.9v2.9h-2.9zM282.29 445.25h2.9v2.9h-2.9zM286.77 445.45h2.9v2.9h-2.9zM291.24 445.55h2.9v2.9h-2.9zM295.72 445.65h2.9v2.9h-2.9zM300.2 445.75h2.9v2.9h-2.9zM304.67 445.75h2.9v2.9h-2.9zM309.15 445.85h2.9v2.9h-2.9z" fill="#ff0000" stroke="none"/>
<path d="M45 271.95 L45.67 272.04 L46.33 272.11 L47 272.19 L47.67 272.26 L48.34 272.33 L49 272.39 L49.67 272.45 L50.34 272.51 L51.01 272.56 L51.67 272.61 L52.34 272.66 L53.01 272.7 L53.68 272.75 L54.34 272.79 L55.01 272.83 L55.68 272.86 L56.35 272.9 L57.01 272.93 L57.68 272.96 L58.35 273 L59.02 273.03 L59.68 273.05 L60.35 273.08 L61.02 273.11 L61.69 273.14 L62.35 273.17 L63.02 273.19 L63.69 273.22 L64.36 273.25 L65.02 273.28 L65.69 273.3 L66.36 273.33 L67.02 273.36 L67.69 273.4 L68.36 273.43 L69.03 273.46 L69.69 273.5 L70.36 273.54 L71.03 273.58 L71.7 273.62 L72.36 273.67 L73.03 273.71 L73.7 273.76 L74.37 273.82 L75.03 273.87 L75.7 273.93 L76.37 273.99 L77.04 274.06 L77.7 274.13 L78.37 274.2 L79.04 274.28 L79.71 274.36 L80.37 274.45 L81.04 274.54 L81.71 274.64 L82.38 274.74 L83.04 274.85 L83.71 274.96 L84.38 275.07 L85.05 275.2 L85.71 275.32 L86.38 275.46 L87.05 275.6 L87.71 275.74 L88.38 275.9 L89.05 276.06 L89.72 276.22 L90.38 276.4 L91.05 276.58 L91.72 276.76 L92.39 276.96 L93.05 277.16 L93.72 277.37 L94.39 277.59 L95.06 277.82 L95.72 278.06 L96.39 278.3 L97.06 278.55 L97.73 278.81 L98.39 279.08 L99.06 279.36 L99.73 279.65 L100.4 279.95 L101.06 280.26 L101.73 280.58 L102.4 280.9 L103.07 281.24 L103.73 281.59 L104.4 281.95 L105.07 282.32 L105.74 282.7 L106.4 283.09 L107.07 283.5 L107.74 283.91 L108.4 284.34 L109.07 284.78 L109.74 285.23 L110.41 285.69 L111.07 286.16 L111.74 286.65 L112.41 287.15 L113.08 287.65 L113.74 288.18 L114.41 288.71 L115.08 289.25 L115.75 289.81 L116.41 290.38 L117.08 290.96 L117.75 291.55 L118.42 292.15 L119.08 292.76 L119.75 293.39 L120.42 294.03 L121.09 294.67 L121.75 295.33 L122.42 296.01 L123.09 296.69 L123.76 297.38 L124.42 298.09 L125.09 298.81 L125.76 299.53 L126.43 300.27 L127.09 301.03 L127.76 301.79 L128.43 302.56 L129.09 303.35 L129.76 304.14 L130.43 304.95 L131.1 305.77 L131.76 306.6 L132.43 307.44 L133.1 308.29 L133.77 309.15 L134.43 310.02 L135.1 310.91 L135.77 311.8 L136.44 312.71 L137.1 313.62 L137.77 314.55 L138.44 315.49 L139.11 316.44 L139.77 317.4 L140.44 318.37 L141.11 319.35 L141.78 320.35 L142.44 321.35 L143.11 322.36 L143.78 323.38 L144.45 324.41 L145.11 325.44 L145.78 326.49 L146.45 327.54 L147.12 328.59 L147.78 329.66 L148.45 330.72 L149.12 331.8 L149.78 332.88 L150.45 333.96 L151.12 335.05 L151.79 336.13 L152.45 337.23 L153.12 338.32 L153.79 339.42 L154.46 340.51 L155.12 341.61 L155.79 342.71 L156.46 343.81 L157.13 344.91 L157.79 346.01 L158.46 347.1 L159.13 348.19 L159.8 349.29 L160.46 350.37 L161.13 351.46 L161.8 352.54 L162.47 353.62 L163.13 354.69 L163.8 355.75 L164.47 356.82 L165.14 357.87 L165.8 358.92 L166.47 359.96 L167.14 360.99 L167.81 362.02 L168.47 363.03 L169.14 364.04 L169.81 365.04 L170.47 366.03 L171.14 367.01 L171.81 367.97 L172.48 368.93 L173.14 369.87 L173.81 370.81 L174.48 371.73 L175.15 372.64 L175.81 373.55 L176.48 374.44 L177.15 375.32 L177.82 376.18 L178.48 377.04 L179.15 377.89 L179.82 378.72 L180.49 379.55 L181.15 380.36 L181.82 381.16 L182.49 381.95 L183.16 382.73 L183.82 383.5 L184.49 384.26 L185.16 385.01 L185.83 385.74 L186.49 386.47 L187.16 387.18 L187.83 387.88 L188.49 388.57 L189.16 389.25 L189.83 389.92 L190.5 390.58 L191.16 391.23 L191.83 391.86 L192.5 392.49 L193.17 393.1 L193.83 393.7 L194.5 394.29 L195.17 394.87 L195.84 395.44 L196.5 396 L197.17 396.54 L197.84 397.08 L198.51 397.6 L199.17 398.11 L199.84 398.62 L200.51 399.11 L201.18 399.59 L201.84 400.06 L202.51 400.52 L203.18 400.97 L203.85 401.41 L204.51 401.84 L205.18 402.27 L205.85 402.68 L206.52 403.08 L207.18 403.48 L207.85 403.87 L208.52 404.25 L209.18 404.63 L209.85 404.99 L210.52 405.35 L211.19 405.7 L211.85 406.05 L212.52 406.39 L213.19 406.72 L213.86 407.04 L214.52 407.37 L215.19 407.68 L215.86 407.99 L216.53 408.29 L217.19 408.59 L217.86 408.89 L218.53 409.18 L219.2 409.46 L219.86 409.75 L220.53 410.02 L221.2 410.3 L221.87 410.57 L222.53 410.84 L223.2 411.1 L223.87 411.36 L224.54 411.62 L225.2 411.88 L225.87 412.14 L226.54 412.39 L227.21 412.64 L227.87 412.9 L228.54 413.15 L229.21 413.39 L229.87 413.64 L230.54 413.89 L231.21 414.13 L231.88 414.37 L232.54 414.62 L233.21 414.86 L233.88 415.1 L234.55 415.33 L235.21 415.57 L235.88 415.8 L236.55 416.04 L237.22 416.27 L237.88 416.5 L238.55 416.72 L239.22 416.95 L239.89 417.17 L240.55 417.4 L241.22 417.62 L241.89 417.84 L242.56 418.05 L243.22 418.27 L243.89 418.48 L244.56 418.69 L245.23 418.9 L245.89 419.11 L246.56 419.31 L247.23 419.52 L247.9 419.72 L248.56 419.92 L249.23 420.11 L249.9 420.31 L250.56 420.5 L251.23 420.69 L251.9 420.88 L252.57 421.06 L253.23 421.25 L253.9 421.43 L254.57 421.61 L255.24 421.78 L255.9 421.96 L256.57 422.13 L257.24 422.3 L257.91 422.46 L258.57 422.63 L259.24 422.79 L259.91 422.95 L260.58 423.11 L261.24 423.26 L261.91 423.41 L262.58 423.56 L263.25 423.71 L263.91 423.85 L264.58 423.99 L265.25 424.13 L265.92 424.27 L266.58 424.41 L267.25 424.54 L267.92 424.67 L268.59 424.8 L269.25 424.93 L269.92 425.06 L270.59 425.18 L271.25 425.3 L271.92 425.42 L272.59 425.54 L273.26 425.66 L273.92 425.77 L274.59 425.88 L275.26 426 L275.93 426.1 L276.59 426.21 L277.26 426.32 L277.93 426.42 L278.6 426.53 L279.26 426.63 L279.93 426.73 L280.6 426.83 L281.27 426.93 L281.93 427.02 L282.6 427.12 L283.27 427.21 L283.94 427.31 L284.6 427.4 L285.27 427.49 L285.94 427.58 L286.61 427.67 L287.27 427.75 L287.94 427.84 L288.61 427.92 L289.28 428.01 L289.94 428.09 L290.61 428.17 L291.28 428.26 L291.94 428.34 L292.61 428.42 L293.28 428.5 L293.95 428.58 L294.61 428.66 L295.28 428.73 L295.95 428.81 L296.62 428.89 L297.28 428.96 L297.95 429.04 L298.62 429.11 L299.29 429.19 L299.95 429.26 L300.62 429.34 L301.29 429.41 L301.96 429.49 L302.62 429.56 L303.29 429.63 L303.96 429.71 L304.63 429.78 L305.29 429.85 L305.96 429.92 L306.63 430 L307.3 430.07 L307.96 430.14 L308.63 430.22 L309.3 430.29 L309.97 430.36 L310.63 430.44 L311.3 430.51" fill="none" stroke="#000" stroke-width="1.05" stroke-linejoin="round"/>
<text x="158.4" y="485" font-size="9.5" text-anchor="start" font-weight="normal" ><tspan>q</tspan><tspan font-size="5.7" dy="-5.23" dx="0">2</tspan><tspan dy="5.23" font-size="1">&#8203;</tspan><tspan> [GeV</tspan><tspan font-size="5.7" dy="-5.23" dx="0">2</tspan><tspan dy="5.23" font-size="1">&#8203;</tspan><tspan>]</tspan></text>
<g transform="translate(10.6 382.4) rotate(-90)"><text x="0" y="0" font-size="9.5" text-anchor="start" font-weight="normal" ><tspan>m</tspan><tspan font-size="5.7" dy="-5.23" dx="0">2</tspan><tspan dy="5.23" font-size="1">&#8203;</tspan><tspan>(q</tspan><tspan font-size="5.7" dy="-5.23" dx="0">2</tspan><tspan dy="5.23" font-size="1">&#8203;</tspan><tspan>) [GeV</tspan><tspan font-size="5.7" dy="-5.23" dx="0">2</tspan><tspan dy="5.23" font-size="1">&#8203;</tspan><tspan>]</tspan></text></g>
<rect x="204.2" y="263.9" width="93.3" height="31.3" fill="#fff" stroke="#3a3a3a" stroke-width="0.8"/>
<text x="211" y="273.1" font-size="7.5" font-weight="bold">Running Masses</text>
<path d="M211.2 280.3h18" stroke="#222" stroke-width="1.2"/>
<text x="230.8" y="282.8" font-size="7.95">Logarithmic mass</text>
<path d="M211.2 289.7h18" stroke="#ff0000" stroke-width="1.2"/>
<rect x="218.5" y="288.2" width="3" height="3" fill="#ff0000"/>
<text x="230.8" y="292.3" font-size="7.95">Power-law mass</text>
<path d="M380.5 257 V453.25 H646.7 V257 Z" fill="none" stroke="#1a1a1a" stroke-width="1.05"/>
<path d="M380.5 453.25v4M380.5 257v4M393.73 453.25v2.2M393.73 257v2.2M401.47 453.25v2.2M401.47 257v2.2M406.96 453.25v2.2M406.96 257v2.2M411.22 453.25v2.2M411.22 257v2.2M414.7 453.25v2.2M414.7 257v2.2M417.64 453.25v2.2M417.64 257v2.2M420.19 453.25v2.2M420.19 257v2.2M422.44 453.25v2.2M422.44 257v2.2M424.45 453.25v4M424.45 257v4M437.68 453.25v2.2M437.68 257v2.2M445.42 453.25v2.2M445.42 257v2.2M450.91 453.25v2.2M450.91 257v2.2M455.17 453.25v2.2M455.17 257v2.2M458.65 453.25v2.2M458.65 257v2.2M461.59 453.25v2.2M461.59 257v2.2M464.14 453.25v2.2M464.14 257v2.2M466.39 453.25v2.2M466.39 257v2.2M468.4 453.25v4M468.4 257v4M481.63 453.25v2.2M481.63 257v2.2M489.37 453.25v2.2M489.37 257v2.2M494.86 453.25v2.2M494.86 257v2.2M499.12 453.25v2.2M499.12 257v2.2M502.6 453.25v2.2M502.6 257v2.2M505.54 453.25v2.2M505.54 257v2.2M508.09 453.25v2.2M508.09 257v2.2M510.34 453.25v2.2M510.34 257v2.2M512.35 453.25v4M512.35 257v4M525.58 453.25v2.2M525.58 257v2.2M533.32 453.25v2.2M533.32 257v2.2M538.81 453.25v2.2M538.81 257v2.2M543.07 453.25v2.2M543.07 257v2.2M546.55 453.25v2.2M546.55 257v2.2M549.49 453.25v2.2M549.49 257v2.2M552.04 453.25v2.2M552.04 257v2.2M554.29 453.25v2.2M554.29 257v2.2M556.3 453.25v4M556.3 257v4M569.53 453.25v2.2M569.53 257v2.2M577.27 453.25v2.2M577.27 257v2.2M582.76 453.25v2.2M582.76 257v2.2M587.02 453.25v2.2M587.02 257v2.2M590.5 453.25v2.2M590.5 257v2.2M593.44 453.25v2.2M593.44 257v2.2M595.99 453.25v2.2M595.99 257v2.2M598.24 453.25v2.2M598.24 257v2.2M600.25 453.25v4M600.25 257v4M613.48 453.25v2.2M613.48 257v2.2M621.22 453.25v2.2M621.22 257v2.2M626.71 453.25v2.2M626.71 257v2.2M630.97 453.25v2.2M630.97 257v2.2M634.45 453.25v2.2M634.45 257v2.2M637.39 453.25v2.2M637.39 257v2.2M639.94 453.25v2.2M639.94 257v2.2M642.19 453.25v2.2M642.19 257v2.2M644.2 453.25v4M644.2 257v4M380.5 453.25h-4M646.7 453.25h-4M380.5 422.97h-4M646.7 422.97h-4M380.5 392.69h-4M646.7 392.69h-4M380.5 362.41h-4M646.7 362.41h-4M380.5 332.13h-4M646.7 332.13h-4M380.5 301.85h-4M646.7 301.85h-4M380.5 271.57h-4M646.7 271.57h-4M380.5 438.11h-2.2M646.7 438.11h-2.2M380.5 407.83h-2.2M646.7 407.83h-2.2M380.5 377.55h-2.2M646.7 377.55h-2.2M380.5 347.27h-2.2M646.7 347.27h-2.2M380.5 316.99h-2.2M646.7 316.99h-2.2M380.5 286.71h-2.2M646.7 286.71h-2.2" fill="none" stroke="#1a1a1a" stroke-width="1"/>
<text x="374.3" y="455.7" font-size="8" text-anchor="end">0,0</text>
<text x="374.3" y="425.42" font-size="8" text-anchor="end">0,2</text>
<text x="374.3" y="395.14" font-size="8" text-anchor="end">0,4</text>
<text x="374.3" y="364.86" font-size="8" text-anchor="end">0,6</text>
<text x="374.3" y="334.58" font-size="8" text-anchor="end">0,8</text>
<text x="374.3" y="304.3" font-size="8" text-anchor="end">1,0</text>
<text x="374.3" y="274.02" font-size="8" text-anchor="end">1,2</text>
<text x="374.6" y="467.9" font-size="8" text-anchor="start" font-weight="normal" ><tspan>10</tspan><tspan font-size="4.8" dy="-4.56" dx="-0.3">-3</tspan><tspan dy="4.56" font-size="1">&#8203;</tspan></text>
<text x="463.34" y="467.9" font-size="8" text-anchor="start" font-weight="normal" ><tspan>10</tspan><tspan font-size="4.8" dy="-4.56" dx="-0.3">-1</tspan><tspan dy="4.56" font-size="1">&#8203;</tspan></text>
<text x="552.08" y="467.9" font-size="8" text-anchor="start" font-weight="normal" ><tspan>10</tspan><tspan font-size="4.8" dy="-4.56" dx="-0.3">1</tspan><tspan dy="4.56" font-size="1">&#8203;</tspan></text>
<text x="640.82" y="467.9" font-size="8" text-anchor="start" font-weight="normal" ><tspan>10</tspan><tspan font-size="4.8" dy="-4.56" dx="-0.3">3</tspan><tspan dy="4.56" font-size="1">&#8203;</tspan></text>
<path d="M381.6 274.3 L382.26 274.34 L382.92 274.39 L383.59 274.43 L384.25 274.48 L384.91 274.52 L385.57 274.56 L386.24 274.61 L386.9 274.65 L387.56 274.69 L388.22 274.73 L388.88 274.77 L389.55 274.82 L390.21 274.87 L390.87 274.92 L391.53 274.99 L392.19 275.06 L392.86 275.14 L393.52 275.22 L394.18 275.3 L394.84 275.38 L395.51 275.46 L396.17 275.53 L396.83 275.6 L397.49 275.67 L398.15 275.74 L398.82 275.82 L399.48 275.9 L400.14 275.98 L400.8 276.06 L401.46 276.14 L402.13 276.23 L402.79 276.32 L403.45 276.41 L404.11 276.52 L404.78 276.63 L405.44 276.76 L406.1 276.89 L406.76 277.03 L407.42 277.18 L408.09 277.33 L408.75 277.48 L409.41 277.64 L410.07 277.81 L410.73 277.98 L411.4 278.16 L412.06 278.35 L412.72 278.55 L413.38 278.75 L414.05 278.97 L414.71 279.19 L415.37 279.43 L416.03 279.67 L416.69 279.92 L417.36 280.18 L418.02 280.45 L418.68 280.74 L419.34 281.04 L420.01 281.34 L420.67 281.66 L421.33 281.97 L421.99 282.29 L422.65 282.61 L423.32 282.94 L423.98 283.27 L424.64 283.61 L425.3 283.95 L425.96 284.31 L426.63 284.68 L427.29 285.07 L427.95 285.47 L428.61 285.88 L429.28 286.3 L429.94 286.73 L430.6 287.17 L431.26 287.61 L431.92 288.07 L432.59 288.54 L433.25 289.03 L433.91 289.52 L434.57 290.02 L435.23 290.53 L435.9 291.04 L436.56 291.57 L437.22 292.1 L437.88 292.64 L438.55 293.2 L439.21 293.77 L439.87 294.35 L440.53 294.95 L441.19 295.55 L441.86 296.17 L442.52 296.81 L443.18 297.46 L443.84 298.13 L444.5 298.82 L445.17 299.53 L445.83 300.27 L446.49 301.02 L447.15 301.78 L447.82 302.56 L448.48 303.34 L449.14 304.12 L449.8 304.92 L450.46 305.73 L451.13 306.54 L451.79 307.36 L452.45 308.19 L453.11 309.02 L453.77 309.84 L454.44 310.66 L455.1 311.48 L455.76 312.31 L456.42 313.16 L457.09 314.02 L457.75 314.9 L458.41 315.81 L459.07 316.74 L459.73 317.69 L460.4 318.65 L461.06 319.62 L461.72 320.58 L462.38 321.53 L463.05 322.48 L463.71 323.43 L464.37 324.38 L465.03 325.33 L465.69 326.29 L466.36 327.24 L467.02 328.2 L467.68 329.16 L468.34 330.12 L469 331.08 L469.67 332.04 L470.33 333.01 L470.99 333.99 L471.65 334.97 L472.32 335.96 L472.98 336.96 L473.64 337.95 L474.3 338.95 L474.96 339.95 L475.63 340.94 L476.29 341.94 L476.95 342.95 L477.61 343.96 L478.27 344.96 L478.94 345.93 L479.6 346.86 L480.26 347.76 L480.92 348.62 L481.59 349.47 L482.25 350.3 L482.91 351.12 L483.57 351.93 L484.23 352.74 L484.9 353.56 L485.56 354.36 L486.22 355.17 L486.88 355.96 L487.54 356.75 L488.21 357.53 L488.87 358.3 L489.53 359.06 L490.19 359.83 L490.86 360.58 L491.52 361.33 L492.18 362.05 L492.84 362.74 L493.5 363.4 L494.17 364.03 L494.83 364.63 L495.49 365.22 L496.15 365.81 L496.82 366.39 L497.48 366.99 L498.14 367.6 L498.8 368.21 L499.46 368.82 L500.13 369.44 L500.79 370.05 L501.45 370.65 L502.11 371.26 L502.77 371.85 L503.44 372.45 L504.1 373.04 L504.76 373.62 L505.42 374.21 L506.09 374.79 L506.75 375.36 L507.41 375.94 L508.07 376.5 L508.73 377.06 L509.4 377.62 L510.06 378.19 L510.72 378.75 L511.38 379.32 L512.04 379.89 L512.71 380.47 L513.37 381.04 L514.03 381.61 L514.69 382.19 L515.36 382.77 L516.02 383.34 L516.68 383.92 L517.34 384.5 L518 385.08 L518.67 385.66 L519.33 386.25 L519.99 386.84 L520.65 387.43 L521.31 388.03 L521.98 388.64 L522.64 389.24 L523.3 389.85 L523.96 390.45 L524.63 391.05 L525.29 391.66 L525.95 392.26 L526.61 392.87 L527.27 393.47 L527.94 394.06 L528.6 394.64 L529.26 395.19 L529.92 395.74 L530.58 396.27 L531.25 396.79 L531.91 397.31 L532.57 397.83 L533.23 398.35 L533.9 398.87 L534.56 399.4 L535.22 399.93 L535.88 400.45 L536.54 400.97 L537.21 401.47 L537.87 401.95 L538.53 402.41 L539.19 402.87 L539.86 403.31 L540.52 403.74 L541.18 404.16 L541.84 404.58 L542.5 404.99 L543.17 405.38 L543.83 405.77 L544.49 406.16 L545.15 406.53 L545.81 406.91 L546.48 407.28 L547.14 407.64 L547.8 408.01 L548.46 408.37 L549.13 408.72 L549.79 409.07 L550.45 409.42 L551.11 409.76 L551.77 410.09 L552.44 410.41 L553.1 410.73 L553.76 411.04 L554.42 411.35 L555.08 411.66 L555.75 411.97 L556.41 412.27 L557.07 412.57 L557.73 412.86 L558.4 413.16 L559.06 413.45 L559.72 413.74 L560.38 414.02 L561.04 414.31 L561.71 414.59 L562.37 414.87 L563.03 415.15 L563.69 415.43 L564.35 415.7 L565.02 415.97 L565.68 416.23 L566.34 416.5 L567 416.75 L567.67 417.01 L568.33 417.26 L568.99 417.5 L569.65 417.73 L570.31 417.96 L570.98 418.18 L571.64 418.4 L572.3 418.61 L572.96 418.83 L573.63 419.04 L574.29 419.25 L574.95 419.46 L575.61 419.67 L576.27 419.88 L576.94 420.08 L577.6 420.28 L578.26 420.47 L578.92 420.66 L579.58 420.84 L580.25 421.02 L580.91 421.19 L581.57 421.37 L582.23 421.55 L582.9 421.74 L583.56 421.94 L584.22 422.14 L584.88 422.34 L585.54 422.53 L586.21 422.72 L586.87 422.89 L587.53 423.05 L588.19 423.2 L588.85 423.35 L589.52 423.49 L590.18 423.63 L590.84 423.77 L591.5 423.92 L592.17 424.08 L592.83 424.25 L593.49 424.42 L594.15 424.59 L594.81 424.75 L595.48 424.92 L596.14 425.08 L596.8 425.25 L597.46 425.41 L598.12 425.58 L598.79 425.74 L599.45 425.91 L600.11 426.06 L600.77 426.22 L601.44 426.36 L602.1 426.51 L602.76 426.65 L603.42 426.79 L604.08 426.92 L604.75 427.06 L605.41 427.19 L606.07 427.32 L606.73 427.45 L607.39 427.58 L608.06 427.71 L608.72 427.83 L609.38 427.95 L610.04 428.08 L610.71 428.2 L611.37 428.31 L612.03 428.43 L612.69 428.55 L613.35 428.66 L614.02 428.77 L614.68 428.88 L615.34 428.99 L616 429.1 L616.67 429.2 L617.33 429.31 L617.99 429.41 L618.65 429.51 L619.31 429.61 L619.98 429.71 L620.64 429.81 L621.3 429.9 L621.96 430 L622.62 430.09 L623.29 430.19 L623.95 430.28 L624.61 430.37 L625.27 430.46 L625.94 430.55 L626.6 430.64 L627.26 430.73 L627.92 430.82 L628.58 430.91 L629.25 430.99 L629.91 431.08 L630.57 431.17 L631.23 431.25 L631.89 431.34 L632.56 431.42 L633.22 431.51 L633.88 431.59 L634.54 431.68 L635.21 431.76 L635.87 431.84 L636.53 431.92 L637.19 432 L637.85 432.08 L638.52 432.16 L639.18 432.24 L639.84 432.32 L640.5 432.4 L641.16 432.48 L641.83 432.55 L642.49 432.63 L643.15 432.71 L643.81 432.78 L644.48 432.85 L645.14 432.93 L645.8 433" fill="none" stroke="#ff0000" stroke-width="1.15" stroke-linejoin="round"/>
<path d="M380.15 272.85h2.9v2.9h-2.9zM384.63 273.15h2.9v2.9h-2.9zM389.11 273.45h2.9v2.9h-2.9zM393.58 273.95h2.9v2.9h-2.9zM398.06 274.45h2.9v2.9h-2.9zM402.54 275.05h2.9v2.9h-2.9zM407.02 275.97h2.9v2.9h-2.9zM411.5 277.16h2.9v2.9h-2.9zM415.97 278.76h2.9v2.9h-2.9zM420.45 280.8h2.9v2.9h-2.9zM424.93 283.09h2.9v2.9h-2.9zM429.41 285.89h2.9v2.9h-2.9zM433.89 289.15h2.9v2.9h-2.9zM438.36 292.85h2.9v2.9h-2.9zM442.84 297.15h2.9v2.9h-2.9zM447.32 302.23h2.9v2.9h-2.9zM451.8 307.73h2.9v2.9h-2.9zM456.28 313.42h2.9v2.9h-2.9zM460.75 319.82h2.9v2.9h-2.9zM465.23 326.26h2.9v2.9h-2.9zM469.71 332.79h2.9v2.9h-2.9zM474.19 339.51h2.9v2.9h-2.9zM478.67 346.11h2.9v2.9h-2.9zM483.14 351.73h2.9v2.9h-2.9zM487.62 357.08h2.9v2.9h-2.9zM492.1 361.99h2.9v2.9h-2.9zM496.58 366.04h2.9v2.9h-2.9zM501.06 370.16h2.9v2.9h-2.9zM505.53 374.12h2.9v2.9h-2.9zM510.01 377.94h2.9v2.9h-2.9zM514.49 381.83h2.9v2.9h-2.9zM518.97 385.77h2.9v2.9h-2.9zM523.44 389.85h2.9v2.9h-2.9zM527.92 393.84h2.9v2.9h-2.9zM532.4 397.39h2.9v2.9h-2.9zM536.88 400.82h2.9v2.9h-2.9zM541.36 403.72h2.9v2.9h-2.9zM545.83 406.27h2.9v2.9h-2.9zM550.31 408.63h2.9v2.9h-2.9zM554.79 410.74h2.9v2.9h-2.9zM559.27 412.72h2.9v2.9h-2.9zM563.75 414.59h2.9v2.9h-2.9zM568.22 416.29h2.9v2.9h-2.9zM572.7 417.76h2.9v2.9h-2.9zM577.18 419.13h2.9v2.9h-2.9zM581.66 420.35h2.9v2.9h-2.9zM586.14 421.62h2.9v2.9h-2.9zM590.61 422.61h2.9v2.9h-2.9zM595.09 423.73h2.9v2.9h-2.9zM599.57 424.82h2.9v2.9h-2.9zM604.05 425.76h2.9v2.9h-2.9zM608.53 426.61h2.9v2.9h-2.9zM613 427.39h2.9v2.9h-2.9zM617.48 428.1h2.9v2.9h-2.9zM621.96 428.75h2.9v2.9h-2.9zM626.44 429.36h2.9v2.9h-2.9zM630.92 429.95h2.9v2.9h-2.9zM635.39 430.51h2.9v2.9h-2.9zM639.87 431.05h2.9v2.9h-2.9zM644.35 431.55h2.9v2.9h-2.9z" fill="#ff0000" stroke="none"/>
<path d="M380.5 274.57 L381.17 274.56 L381.83 274.55 L382.5 274.54 L383.17 274.54 L383.84 274.55 L384.5 274.56 L385.17 274.57 L385.84 274.59 L386.5 274.61 L387.17 274.63 L387.84 274.66 L388.51 274.7 L389.17 274.74 L389.84 274.78 L390.51 274.83 L391.17 274.89 L391.84 274.95 L392.51 275.01 L393.18 275.08 L393.84 275.16 L394.51 275.24 L395.18 275.33 L395.84 275.43 L396.51 275.53 L397.18 275.64 L397.85 275.75 L398.51 275.87 L399.18 276 L399.85 276.13 L400.52 276.28 L401.18 276.42 L401.85 276.58 L402.52 276.74 L403.18 276.91 L403.85 277.09 L404.52 277.27 L405.19 277.46 L405.85 277.66 L406.52 277.87 L407.19 278.09 L407.85 278.31 L408.52 278.55 L409.19 278.79 L409.86 279.04 L410.52 279.3 L411.19 279.56 L411.86 279.84 L412.52 280.12 L413.19 280.42 L413.86 280.72 L414.53 281.03 L415.19 281.36 L415.86 281.69 L416.53 282.03 L417.19 282.38 L417.86 282.74 L418.53 283.11 L419.2 283.5 L419.86 283.89 L420.53 284.29 L421.2 284.7 L421.86 285.13 L422.53 285.56 L423.2 286.01 L423.87 286.46 L424.53 286.93 L425.2 287.41 L425.87 287.9 L426.53 288.4 L427.2 288.91 L427.87 289.44 L428.54 289.97 L429.2 290.52 L429.87 291.08 L430.54 291.65 L431.2 292.24 L431.87 292.83 L432.54 293.44 L433.21 294.07 L433.87 294.7 L434.54 295.35 L435.21 296.01 L435.87 296.68 L436.54 297.37 L437.21 298.07 L437.88 298.79 L438.54 299.51 L439.21 300.26 L439.88 301.01 L440.55 301.78 L441.21 302.56 L441.88 303.36 L442.55 304.17 L443.21 305 L443.88 305.84 L444.55 306.69 L445.22 307.56 L445.88 308.45 L446.55 309.35 L447.22 310.26 L447.88 311.19 L448.55 312.14 L449.22 313.1 L449.89 314.08 L450.55 315.07 L451.22 316.08 L451.89 317.1 L452.55 318.14 L453.22 319.2 L453.89 320.26 L454.56 321.35 L455.22 322.44 L455.89 323.55 L456.56 324.66 L457.22 325.79 L457.89 326.92 L458.56 328.06 L459.23 329.21 L459.89 330.36 L460.56 331.52 L461.23 332.68 L461.89 333.84 L462.56 335 L463.23 336.16 L463.9 337.33 L464.56 338.48 L465.23 339.64 L465.9 340.79 L466.56 341.94 L467.23 343.08 L467.9 344.21 L468.57 345.33 L469.23 346.44 L469.9 347.53 L470.57 348.62 L471.23 349.69 L471.9 350.75 L472.57 351.8 L473.24 352.83 L473.9 353.85 L474.57 354.86 L475.24 355.84 L475.91 356.82 L476.57 357.78 L477.24 358.72 L477.91 359.64 L478.57 360.55 L479.24 361.44 L479.91 362.31 L480.58 363.16 L481.24 363.99 L481.91 364.81 L482.58 365.6 L483.24 366.37 L483.91 367.13 L484.58 367.86 L485.25 368.57 L485.91 369.26 L486.58 369.93 L487.25 370.58 L487.91 371.21 L488.58 371.83 L489.25 372.42 L489.92 373.01 L490.58 373.57 L491.25 374.12 L491.92 374.66 L492.58 375.19 L493.25 375.7 L493.92 376.2 L494.59 376.69 L495.25 377.17 L495.92 377.64 L496.59 378.11 L497.25 378.56 L497.92 379.01 L498.59 379.45 L499.26 379.89 L499.92 380.32 L500.59 380.75 L501.26 381.18 L501.92 381.6 L502.59 382.02 L503.26 382.44 L503.93 382.86 L504.59 383.29 L505.26 383.71 L505.93 384.13 L506.59 384.56 L507.26 384.98 L507.93 385.4 L508.6 385.83 L509.26 386.25 L509.93 386.68 L510.6 387.1 L511.26 387.53 L511.93 387.96 L512.6 388.38 L513.27 388.81 L513.93 389.23 L514.6 389.65 L515.27 390.08 L515.94 390.5 L516.6 390.92 L517.27 391.35 L517.94 391.77 L518.6 392.19 L519.27 392.61 L519.94 393.03 L520.61 393.44 L521.27 393.86 L521.94 394.27 L522.61 394.69 L523.27 395.1 L523.94 395.51 L524.61 395.92 L525.28 396.33 L525.94 396.74 L526.61 397.14 L527.28 397.54 L527.94 397.94 L528.61 398.34 L529.28 398.74 L529.95 399.13 L530.61 399.53 L531.28 399.92 L531.95 400.3 L532.61 400.69 L533.28 401.07 L533.95 401.45 L534.62 401.83 L535.28 402.21 L535.95 402.58 L536.62 402.95 L537.28 403.31 L537.95 403.68 L538.62 404.04 L539.29 404.4 L539.95 404.75 L540.62 405.1 L541.29 405.45 L541.95 405.79 L542.62 406.14 L543.29 406.47 L543.96 406.81 L544.62 407.14 L545.29 407.47 L545.96 407.8 L546.62 408.12 L547.29 408.45 L547.96 408.76 L548.63 409.08 L549.29 409.39 L549.96 409.7 L550.63 410.01 L551.29 410.31 L551.96 410.61 L552.63 410.91 L553.3 411.21 L553.96 411.5 L554.63 411.79 L555.3 412.08 L555.97 412.37 L556.63 412.65 L557.3 412.93 L557.97 413.2 L558.63 413.48 L559.3 413.75 L559.97 414.02 L560.64 414.29 L561.3 414.55 L561.97 414.81 L562.64 415.07 L563.3 415.33 L563.97 415.58 L564.64 415.83 L565.31 416.08 L565.97 416.33 L566.64 416.57 L567.31 416.82 L567.97 417.05 L568.64 417.29 L569.31 417.53 L569.98 417.76 L570.64 417.99 L571.31 418.22 L571.98 418.44 L572.64 418.67 L573.31 418.89 L573.98 419.1 L574.65 419.32 L575.31 419.54 L575.98 419.75 L576.65 419.96 L577.31 420.16 L577.98 420.37 L578.65 420.57 L579.32 420.77 L579.98 420.97 L580.65 421.17 L581.32 421.37 L581.98 421.56 L582.65 421.75 L583.32 421.94 L583.99 422.13 L584.65 422.31 L585.32 422.49 L585.99 422.67 L586.65 422.85 L587.32 423.03 L587.99 423.21 L588.66 423.38 L589.32 423.55 L589.99 423.72 L590.66 423.89 L591.33 424.05 L591.99 424.22 L592.66 424.38 L593.33 424.54 L593.99 424.7 L594.66 424.86 L595.33 425.01 L596 425.17 L596.66 425.32 L597.33 425.47 L598 425.62 L598.66 425.76 L599.33 425.91 L600 426.05 L600.67 426.2 L601.33 426.34 L602 426.47 L602.67 426.61 L603.33 426.75 L604 426.88 L604.67 427.02 L605.34 427.15 L606 427.28 L606.67 427.41 L607.34 427.53 L608 427.66 L608.67 427.78 L609.34 427.91 L610.01 428.03 L610.67 428.15 L611.34 428.27 L612.01 428.38 L612.67 428.5 L613.34 428.62 L614.01 428.73 L614.68 428.84 L615.34 428.95 L616.01 429.06 L616.68 429.17 L617.34 429.28 L618.01 429.39 L618.68 429.49 L619.35 429.6 L620.01 429.7 L620.68 429.8 L621.35 429.9 L622.01 430 L622.68 430.1 L623.35 430.2 L624.02 430.3 L624.68 430.39 L625.35 430.49 L626.02 430.58 L626.68 430.67 L627.35 430.77 L628.02 430.86 L628.69 430.95 L629.35 431.04 L630.02 431.12 L630.69 431.21 L631.36 431.3 L632.02 431.38 L632.69 431.47 L633.36 431.55 L634.02 431.64 L634.69 431.72 L635.36 431.8 L636.03 431.88 L636.69 431.96 L637.36 432.04 L638.03 432.12 L638.69 432.2 L639.36 432.28 L640.03 432.36 L640.7 432.43 L641.36 432.51 L642.03 432.58 L642.7 432.66 L643.36 432.73 L644.03 432.81 L644.7 432.88 L645.37 432.95 L646.03 433.03 L646.7 433.1" fill="none" stroke="#000" stroke-width="1.05" stroke-linejoin="round"/>
<text x="495.4" y="485" font-size="9.5" text-anchor="start" font-weight="normal" ><tspan>q</tspan><tspan font-size="5.7" dy="-5.23" dx="0">2</tspan><tspan dy="5.23" font-size="1">&#8203;</tspan><tspan>[GeV</tspan><tspan font-size="5.7" dy="-5.23" dx="0">2</tspan><tspan dy="5.23" font-size="1">&#8203;</tspan><tspan>]</tspan></text>
<g transform="translate(348.9 365) rotate(-90)"><path d="M5.3 -4.8C4.6 -2.2 3.5 -0.2 2.1 -0.2C0.9 -0.2 0.4 -1.2 0.4 -2.4C0.4 -3.7 1 -4.7 2.2 -4.7C3.6 -4.7 4.5 -2.4 5.4 -0.1" fill="none" stroke="#0a0a0a" stroke-width="0.9"/><text x="7.9" y="0" font-size="9.5" text-anchor="start" font-weight="normal" ><tspan>(q</tspan><tspan font-size="5.7" dy="-5.23" dx="0">2</tspan><tspan dy="5.23" font-size="1">&#8203;</tspan><tspan dx="0.9">)</tspan></text></g>
<rect x="548.3" y="261.7" width="89.3" height="30.8" fill="#fff" stroke="#3a3a3a" stroke-width="0.8"/>
<text x="553.7" y="270.6" font-size="7.5" font-weight="bold">Running Charge</text>
<path d="M553.2 277.5h18.1" stroke="#222" stroke-width="1.2"/>
<text x="573.4" y="280.3" font-size="7.95">Logarithmic mass</text>
<path d="M553.2 287.4h3.6M565.4 287.4h3.2" stroke="#ff0000" stroke-width="1.2"/>
<rect x="561" y="285.9" width="3" height="3" fill="#ff0000"/>
<text x="573.4" y="289.9" font-size="7.95">Power-law mass</text>
</svg></body></html>
